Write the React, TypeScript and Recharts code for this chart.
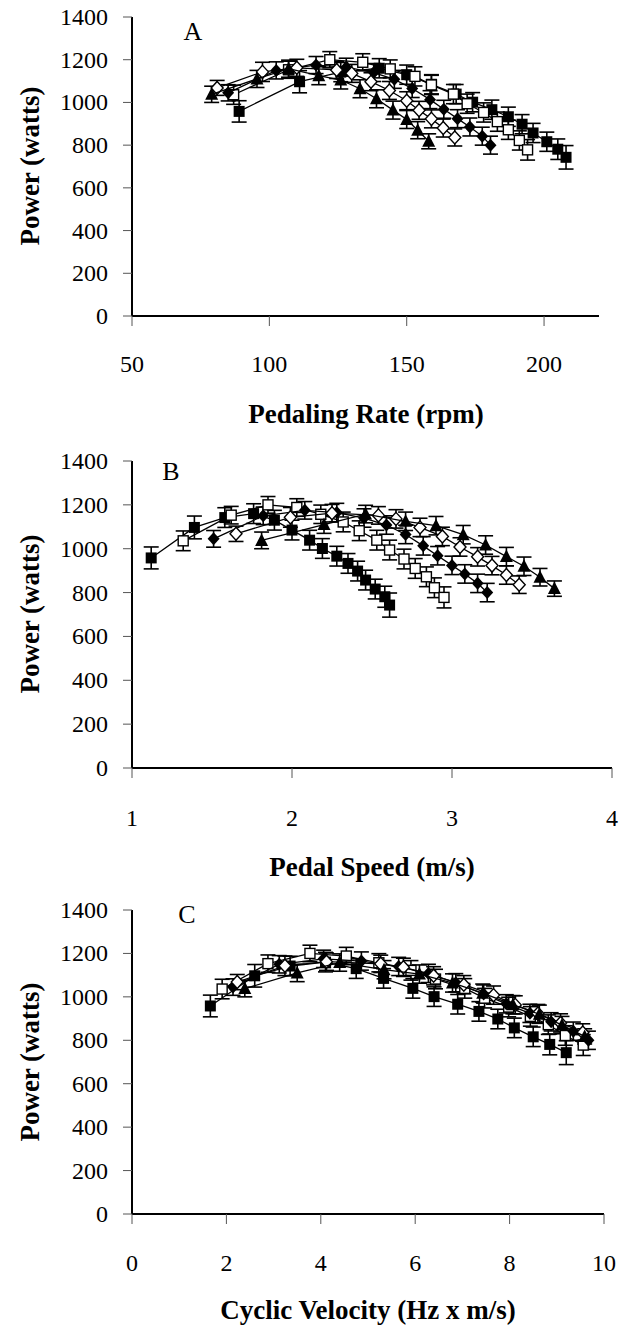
import React from 'react';
import { ScatterChart, Scatter, XAxis, YAxis, ErrorBar } from 'recharts';

// Pedaling rate (rpm) for each crank length, panel A
const rpmSq = [89, 111, 126, 140, 150, 159, 168, 174, 181, 187, 192, 196, 201, 205, 208];
const rpmOpenSq = [87, 107, 122, 134, 144, 153, 159, 167, 172, 178, 183, 187, 191, 194];
const rpmDia = [85, 102.5, 117, 128, 138, 145.5, 152, 158.5, 163.5, 168.5, 173, 177.5, 180.5];
const rpmOpenDia = [81, 97.5, 110, 124.5, 130, 137, 143.7, 150, 154.5, 159, 163.3, 167.5];
const rpmTri = [79, 95.5, 107, 118, 126, 133, 139, 145, 150, 154, 158];

// Pedal speed (m/s), panel B
const psSq = [1.12, 1.39, 1.58, 1.76, 1.89, 2.0, 2.11, 2.19, 2.28, 2.35, 2.41, 2.46, 2.52, 2.58, 2.61];
const psOpenSq = [1.32, 1.62, 1.85, 2.03, 2.18, 2.32, 2.42, 2.53, 2.61, 2.7, 2.77, 2.84, 2.89, 2.95];
const psDia = [1.51, 1.82, 2.08, 2.28, 2.45, 2.59, 2.71, 2.82, 2.91, 3.0, 3.08, 3.16, 3.22];
const psOpenDia = [1.65, 1.99, 2.25, 2.54, 2.65, 2.8, 2.94, 3.05, 3.16, 3.25, 3.34, 3.42];
const psTri = [1.81, 2.2, 2.46, 2.71, 2.9, 3.07, 3.21, 3.34, 3.45, 3.55, 3.64];

// Cyclic velocity (Hz x m/s), panel C
const cvSq = [1.66, 2.6, 3.35, 4.1, 4.75, 5.33, 5.95, 6.4, 6.9, 7.35, 7.75, 8.1, 8.5, 8.85, 9.2];
const cvOpenSq = [1.91, 2.88, 3.77, 4.54, 5.23, 5.91, 6.43, 7.05, 7.47, 7.98, 8.44, 8.82, 9.18, 9.56];
const cvDia = [2.14, 3.12, 4.06, 4.86, 5.65, 6.28, 6.86, 7.45, 7.93, 8.43, 8.88, 9.35, 9.67];
const cvOpenDia = [2.23, 3.24, 4.12, 5.27, 5.75, 6.39, 7.03, 7.66, 8.12, 8.6, 9.08, 9.55];
const cvTri = [2.39, 3.5, 4.4, 5.34, 6.09, 6.79, 7.43, 8.07, 8.63, 9.11, 9.59];

// Power (watts), same points in all panels
const pwSq = [958, 1097, 1142, 1160, 1130, 1085, 1039, 1001, 966, 933, 898, 857, 816, 781, 743];
const pwOpenSq = [1036, 1153, 1200, 1188, 1157, 1122, 1082, 1039, 994, 953, 910, 872, 822, 778];
const pwDia = [1045, 1150, 1175, 1165, 1140, 1108, 1065, 1013, 968, 924, 885, 842, 800];
const pwOpenDia = [1068, 1143, 1162, 1152, 1136, 1097, 1056, 1008, 963, 923, 880, 836];
const pwTri = [1038, 1110, 1158, 1125, 1105, 1064, 1017, 964, 920, 870, 818];

// SE of power (watts)
const seSq = [50, 52, 45, 45, 45, 45, 45, 45, 45, 45, 45, 45, 45, 48, 55];
const seOpenSq = [45, 40, 38, 40, 42, 45, 45, 45, 45, 45, 45, 45, 45, 48];
const seDia = [38, 40, 40, 42, 42, 42, 42, 42, 42, 42, 42, 42, 42];
const seOpenDia = [35, 45, 40, 40, 42, 42, 42, 42, 42, 42, 42, 40];
const seTri = [38, 40, 40, 42, 42, 42, 42, 42, 42, 40, 35];

const yTicks = [0, 200, 400, 600, 800, 1000, 1200, 1400];

const FONT = '"Liberation Serif", "Times New Roman", serif';

const zip = (xs: number[], ys: number[], es: number[]) => xs.map((x, i) => ({ x, y: ys[i], e: es[i] }));

const FilledSquare = (p: any) => <rect x={p.cx - 5.5} y={p.cy - 5.5} width={11} height={11} fill="#000" />;
const OpenSquare = (p: any) => (
  <rect x={p.cx - 5} y={p.cy - 5} width={10} height={10} fill="#fff" stroke="#000" strokeWidth={1.4} />
);
const FilledDiamond = (p: any) => (
  <polygon points={`${p.cx},${p.cy - 6.5} ${p.cx + 6},${p.cy} ${p.cx},${p.cy + 6.5} ${p.cx - 6},${p.cy}`} fill="#000" />
);
const OpenDiamond = (p: any) => (
  <polygon
    points={`${p.cx},${p.cy - 6.5} ${p.cx + 6},${p.cy} ${p.cx},${p.cy + 6.5} ${p.cx - 6},${p.cy}`}
    fill="#fff"
    stroke="#000"
    strokeWidth={1.4}
  />
);
const Triangle = (p: any) => (
  <polygon points={`${p.cx},${p.cy - 7} ${p.cx + 6.5},${p.cy + 5.5} ${p.cx - 6.5},${p.cy + 5.5}`} fill="#000" />
);

const shapes = [FilledSquare, OpenSquare, FilledDiamond, OpenDiamond, Triangle];
const powers = [pwSq, pwOpenSq, pwDia, pwOpenDia, pwTri];
const errors = [seSq, seOpenSq, seDia, seOpenDia, seTri];

const YTick = (p: any) => (
  <text x={p.x} y={p.y} dy={8} textAnchor="end" fontSize={24} fontFamily={FONT} fill="#000">
    {p.payload.value}
  </text>
);

interface PanelProps {
  top: number;
  height: number;
  plotTop: number;
  plotBottom: number;
  plotRight: number;
  xs: number[][];
  domain: [number, number];
  ticks: number[];
  tickDy: number;
}

const PLOT_LEFT = 132;

const Panel: React.FC<PanelProps> = ({ top, height, plotTop, plotBottom, plotRight, xs, domain, ticks, tickDy }) => {
  const xAxisH = 40;
  const XTick = (p: any) => (
    <text x={p.x} y={p.y} dy={tickDy} textAnchor="middle" fontSize={24} fontFamily={FONT} fill="#000">
      {p.payload.value}
    </text>
  );
  return (
    <div style={{ position: 'absolute', left: 0, top }}>
      <ScatterChart
        width={631}
        height={height}
        margin={{ top: plotTop, right: 631 - plotRight, left: PLOT_LEFT - 70, bottom: height - plotBottom - xAxisH }}
      >
        <XAxis
          type="number"
          dataKey="x"
          domain={domain}
          ticks={ticks}
          allowDataOverflow
          height={xAxisH}
          tickSize={10}
          axisLine={{ stroke: '#000', strokeWidth: 2 }}
          tickLine={{ stroke: '#555', strokeWidth: 1 }}
          tick={XTick}
        />
        <YAxis
          type="number"
          dataKey="y"
          domain={[0, 1400]}
          ticks={yTicks}
          width={70}
          tickSize={9}
          tickMargin={15}
          axisLine={{ stroke: '#000', strokeWidth: 2 }}
          tickLine={{ stroke: '#555', strokeWidth: 1 }}
          tick={YTick}
        />
        {xs.map((x, i) => (
          <Scatter
            key={i}
            data={zip(x, powers[i], errors[i])}
            shape={shapes[i]}
            line={{ stroke: '#000', strokeWidth: 1.3 }}
            lineType="joint"
            isAnimationActive={false}
          >
            <ErrorBar dataKey="e" direction="y" width={7.5} stroke="#000" strokeWidth={1.6} />
          </Scatter>
        ))}
      </ScatterChart>
    </div>
  );
};

const textBase: React.CSSProperties = {
  position: 'absolute',
  fontFamily: FONT,
  color: '#000',
  whiteSpace: 'nowrap',
  lineHeight: 1,
};

const XTitle = ({ cx, cy, text }: { cx: number; cy: number; text: string }) => (
  <div style={{ ...textBase, left: cx, top: cy, fontSize: 27, fontWeight: 'bold', transform: 'translate(-50%, -50%)' }}>
    {text}
  </div>
);

const YTitle = ({ cx, cy }: { cx: number; cy: number }) => (
  <div
    style={{
      ...textBase,
      left: cx,
      top: cy,
      fontSize: 27,
      fontWeight: 'bold',
      transform: 'translate(-50%, -50%) rotate(-90deg)',
    }}
  >
    Power (watts)
  </div>
);

const Letter = ({ cx, cy, text }: { cx: number; cy: number; text: string }) => (
  <div style={{ ...textBase, left: cx, top: cy, fontSize: 26, transform: 'translate(-50%, -50%)' }}>{text}</div>
);

export default function App() {
  return (
    <div style={{ position: 'absolute', left: 0, top: 0, width: 631, height: 1326, background: '#fff' }}>
      <Panel
        top={0}
        height={440}
        plotTop={17}
        plotBottom={316}
        plotRight={599}
        xs={[rpmSq, rpmOpenSq, rpmDia, rpmOpenDia, rpmTri]}
        domain={[50, 220]}
        ticks={[50, 100, 150, 200]}
        tickDy={44}
      />
      <Panel
        top={440}
        height={440}
        plotTop={21}
        plotBottom={328}
        plotRight={612}
        xs={[psSq, psOpenSq, psDia, psOpenDia, psTri]}
        domain={[1, 4]}
        ticks={[1, 2, 3, 4]}
        tickDy={46}
      />
      <Panel
        top={880}
        height={446}
        plotTop={30}
        plotBottom={334}
        plotRight={604}
        xs={[cvSq, cvOpenSq, cvDia, cvOpenDia, cvTri]}
        domain={[0, 10]}
        ticks={[0, 2, 4, 6, 8, 10]}
        tickDy={44.5}
      />
      <YTitle cx={30} cy={166} />
      <YTitle cx={30} cy={614} />
      <YTitle cx={30} cy={1062} />
      <XTitle cx={366} cy={414} text="Pedaling Rate (rpm)" />
      <XTitle cx={372} cy={867} text="Pedal Speed (m/s)" />
      <XTitle cx={368} cy={1310} text="Cyclic Velocity (Hz x m/s)" />
      <Letter cx={193} cy={32} text="A" />
      <Letter cx={171} cy={472} text="B" />
      <Letter cx={187} cy={915} text="C" />
    </div>
  );
}
